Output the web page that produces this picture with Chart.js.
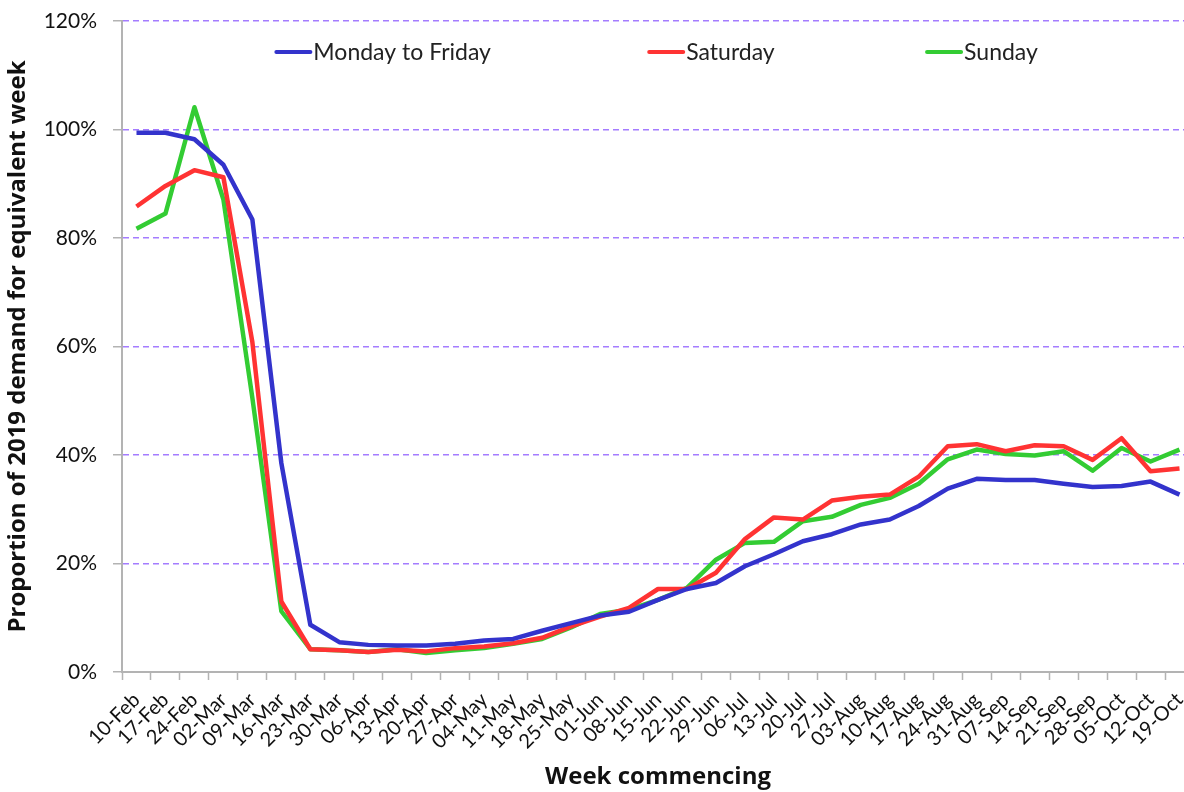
<!DOCTYPE html>
<html>
<head>
<meta charset="utf-8">
<script src="https://cdn.jsdelivr.net/npm/chart.js@4.4.1/dist/chart.umd.min.js"></script>
<style>
  html, body { margin: 0; padding: 0; background: #fff; overflow: hidden; }
  #wrap { width: 1194px; height: 792px; }
</style>
</head>
<body>
<div id="wrap"><canvas id="myChart" width="1194" height="792"></canvas></div>
<script>
// week commencing labels
const weeks = [
  "10-Feb", "17-Feb", "24-Feb", "02-Mar", "09-Mar", "16-Mar", "23-Mar", "30-Mar",
  "06-Apr", "13-Apr", "20-Apr", "27-Apr", "04-May", "11-May", "18-May", "25-May",
  "01-Jun", "08-Jun", "15-Jun", "22-Jun", "29-Jun", "06-Jul", "13-Jul", "20-Jul",
  "27-Jul", "03-Aug", "10-Aug", "17-Aug", "24-Aug", "31-Aug", "07-Sep", "14-Sep",
  "21-Sep", "28-Sep", "05-Oct", "12-Oct", "19-Oct"
];

// proportion of 2019 demand (%)
const mondayToFriday = [
  99.4, 99.4, 98.2, 93.5, 83.4, 38.5, 8.7, 5.5, 5.0, 4.9,
  4.9, 5.2, 5.8, 6.1, 7.6, 9.0, 10.4, 11.1, 13.3, 15.3,
  16.4, 19.5, 21.7, 24.1, 25.4, 27.2, 28.1, 30.6, 33.8, 35.6,
  35.4, 35.4, 34.7, 34.1, 34.3, 35.1, 32.7
];
const saturday = [
  85.8, 89.6, 92.5, 91.2, 60.8, 13.0, 4.2, 4.0, 3.7, 4.1,
  3.8, 4.4, 4.7, 5.3, 6.3, 8.4, 10.2, 11.8, 15.3, 15.3,
  18.3, 24.5, 28.5, 28.1, 31.6, 32.3, 32.7, 36.0, 41.6, 42.0,
  40.7, 41.8, 41.6, 39.1, 43.1, 37.0, 37.5
];
const sunday = [
  81.7, 84.5, 104.1, 87.1, 50.5, 11.2, 4.2, 4.0, 3.7, 4.2,
  3.5, 4.0, 4.4, 5.2, 6.1, 8.2, 10.7, 11.5, 13.3, 15.5,
  20.7, 23.8, 24.0, 27.8, 28.6, 30.8, 32.1, 34.7, 39.2, 41.0,
  40.2, 39.9, 40.7, 37.1, 41.3, 38.8, 41.0
];

const FONT = "Lato, 'Open Sans', sans-serif";
const TITLE_FONT = "'Open Sans', Lato, sans-serif";

// legend drawn inside the plot, spread out like the original
const insideLegend = {
  id: "insideLegend",
  afterDraw(chart) {
    const { ctx, chartArea } = chart;
    const xs = [0.144, 0.4918, 0.751];
    const y = chartArea.top + 31;
    ctx.save();
    ctx.font = "23px " + FONT;
    ctx.textBaseline = "middle";
    chart.data.datasets.forEach((ds, i) => {
      const x = chartArea.left + xs[i] * (chartArea.right - chartArea.left);
      ctx.strokeStyle = ds.borderColor;
      ctx.lineWidth = 4;
      ctx.lineCap = "round";
      ctx.beginPath();
      ctx.moveTo(x, y);
      ctx.lineTo(x + 34, y);
      ctx.stroke();
      ctx.fillStyle = "#222";
      ctx.fillText(ds.label, x + 37, y + 1);
    });
    ctx.restore();
  },
};

const ctx = document.getElementById("myChart");

new Chart(ctx, {
  type: "line",
  data: {
    labels: weeks,
    datasets: [
      { label: "Monday to Friday", data: mondayToFriday, borderColor: "#3333cc" },
      { label: "Saturday", data: saturday, borderColor: "#ff3333" },
      { label: "Sunday", data: sunday, borderColor: "#33cc33" },
    ],
  },
  options: {
    responsive: false,
    animation: false,
    layout: { padding: { top: 21, left: 0, right: 0, bottom: 0 } },
    elements: {
      line: { borderWidth: 4.5, tension: 0, borderJoinStyle: "round" },
      point: { radius: 0 },
    },
    scales: {
      x: {
        offset: true,
        afterFit: (s) => { s.height = 120; s.paddingRight = 0; },
        grid: {
          offset: true,
          drawOnChartArea: false,
          tickLength: 8,
          tickColor: "#b3b3b3",
          tickWidth: 1.5,
        },
        border: { color: "#b3b3b3", width: 2 },
        ticks: {
          autoSkip: false,
          minRotation: 45,
          maxRotation: 45,
          padding: 8,
          color: "#111",
          font: { family: FONT, size: 20 },
        },
        title: {
          display: true,
          text: "Week commencing",
          color: "#111",
          font: { family: TITLE_FONT, size: 24, weight: "bold" },
          padding: { top: 0, bottom: 0 },
        },
      },
      y: {
        min: 0,
        max: 120,
        afterFit: (s) => { s.width = 122; s.paddingTop = 0; },
        grid: {
          color: (c) => (c.tick && c.tick.value === 0 ? "rgba(0,0,0,0)" : "#a47cff"),
          lineWidth: 1.5,
          tickLength: 9,
          tickColor: "#b3b3b3",
          tickWidth: 1.5,
        },
        border: { color: "#b3b3b3", width: 2, dash: [6, 4] },
        ticks: {
          stepSize: 20,
          padding: 16,
          color: "#111",
          font: { family: FONT, size: 21 },
          callback: (v) => v + "%",
        },
        title: {
          display: true,
          text: "Proportion of 2019 demand for equivalent week",
          color: "#111",
          font: { family: TITLE_FONT, size: 24, weight: "bold" },
          padding: { top: 4, bottom: 0 },
        },
      },
    },
    plugins: {
      legend: { display: false },
      tooltip: { enabled: false },
    },
  },
  plugins: [insideLegend],
});
</script>
</body>
</html>
